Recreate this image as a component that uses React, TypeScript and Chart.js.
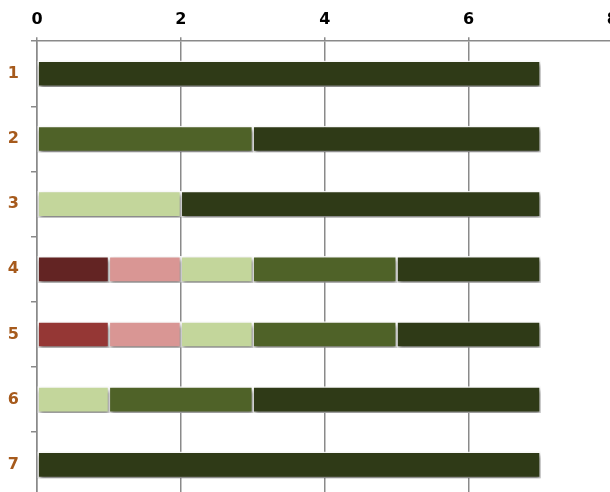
import React, { useEffect, useRef } from "react";
import { Chart, registerables } from "chart.js";

Chart.register(...registerables);

const categories = ["1", "2", "3", "4", "5", "6", "7"];
const redValues = [null, null, null, 1, 1, null, null];
const redColors = ["#953735", "#953735", "#953735", "#632423", "#953735", "#953735", "#953735"];
const pinkValues = [null, null, null, 1, 1, null, null];
const lightGreenValues = [null, null, 2, 1, 1, 1, null];
const midGreenValues = [null, 3, null, 2, 2, 2, null];
const darkGreenValues = [7, 4, 5, 2, 2, 4, 7];
const xTicks = [0, 2, 4, 6, 8];

const shadowPlugin = {
  id: "barShadow",
  beforeDatasetsDraw(chart: any) {
    const ctx = chart.ctx;
    ctx.save();
    ctx.shadowColor = "rgba(0,0,0,0.5)";
    ctx.shadowBlur = 4;
    ctx.shadowOffsetX = 1;
    ctx.shadowOffsetY = 3;
  },
  afterDatasetsDraw(chart: any) {
    chart.ctx.restore();
  },
};

export default function App() {
  const ref = useRef<HTMLCanvasElement>(null);
  useEffect(() => {
    if (!ref.current) return;
    const mk = (label: string, data: (number | null)[], color: string | string[]) => ({
      label,
      data,
      backgroundColor: color,
      borderColor: "rgba(255,255,255,0.9)",
      borderWidth: 1.5,
      borderSkipped: false,
      barThickness: 26,
    });
    const chart = new Chart(ref.current, {
      type: "bar",
      data: {
        labels: categories,
        datasets: [
          mk("a", redValues, redColors),
          mk("b", pinkValues, "#d99694"),
          mk("c", lightGreenValues, "#c3d69b"),
          mk("d", midGreenValues, "#4f6228"),
          mk("e", darkGreenValues, "#2f3a17"),
        ],
      },
      options: {
        indexAxis: "y",
        responsive: false,
        animation: false,
        layout: { padding: { top: 2, right: 0, bottom: 0, left: 0 } },
        plugins: { legend: { display: false }, tooltip: { enabled: false } },
        scales: {
          x: {
            position: "top",
            stacked: true,
            min: 0,
            max: 8,
            afterBuildTicks: (axis: any) => {
              axis.ticks = xTicks.map((v) => ({ value: v }));
            },
            grid: { color: "#8a8a8a", lineWidth: 1.5, tickLength: 4 },
            border: { color: "#8a8a8a", width: 1.5 },
            ticks: {
              color: "#000",
              font: { family: "DejaVu Sans", size: 16, weight: "bold" },
              padding: 8,
            },
          },
          y: {
            stacked: true,
            afterFit: (scale: any) => {
              scale.width = 37;
            },
            grid: { drawOnChartArea: false, offset: true, color: "#8a8a8a", lineWidth: 1.5, tickLength: 6 },
            border: { color: "#8a8a8a", width: 1.5 },
            ticks: {
              color: "#a65a1c",
              font: { family: "DejaVu Sans", size: 16, weight: "bold" },
              padding: 12,
            },
          },
        },
      },
      plugins: [shadowPlugin],
    });
    return () => chart.destroy();
  }, []);
  return (
    <div style={{ position: "fixed", left: 0, top: 0, width: 610, height: 492, overflow: "hidden", background: "#fff" }}>
      <canvas ref={ref} width={626} height={519} />
    </div>
  );
}
